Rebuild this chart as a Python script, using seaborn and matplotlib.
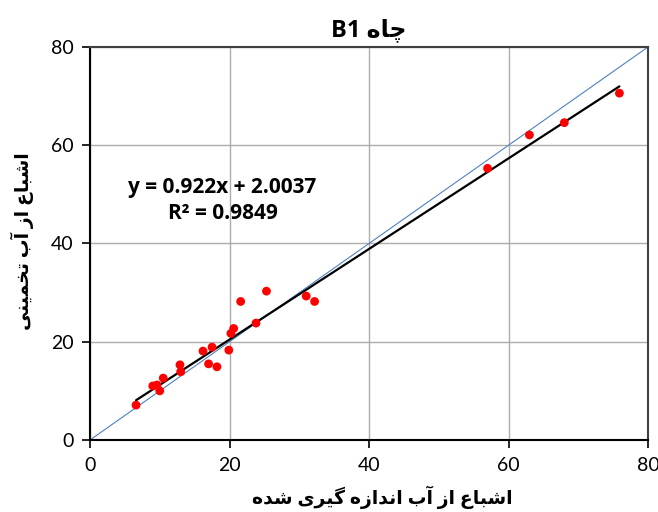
import matplotlib
matplotlib.use("Agg")
import matplotlib.pyplot as plt
import seaborn as sns
import numpy as np
import pandas as pd

# ---- data -------------------------------------------------------------
measured = [6.6, 9.0, 9.6, 10.0, 10.5, 12.9, 13.0, 16.2, 17.0, 17.5, 18.2,
            19.9, 20.2, 20.6, 21.6, 23.8, 25.3, 31.0, 32.2, 57.0, 63.0,
            68.0, 75.9]
estimated = [7.1, 11.0, 11.2, 10.0, 12.6, 15.3, 13.9, 18.1, 15.5, 18.9, 14.9,
             18.3, 21.7, 22.7, 28.2, 23.8, 30.3, 29.3, 28.2, 55.3, 62.1,
             64.6, 70.6]
slope = 0.922
intercept = 2.0037
r_squared = 0.9849
ticks = [0, 20, 40, 60, 80]

title_text = "چاه B1"
xlabel_text = "اشباع از آب اندازه گیری شده"
ylabel_text = "اشباع از آب تخمینی"

# ---- minimal Persian shaping (presentation forms + visual order) -----
FORMS = {  # isolated, final, initial, medial
    "ا": (0xFE8D, 0xFE8E, None, None),
    "آ": (0xFE81, 0xFE82, None, None),
    "ب": (0xFE8F, 0xFE90, 0xFE91, 0xFE92),
    "ت": (0xFE95, 0xFE96, 0xFE97, 0xFE98),
    "خ": (0xFEA5, 0xFEA6, 0xFEA7, 0xFEA8),
    "د": (0xFEA9, 0xFEAA, None, None),
    "ر": (0xFEAD, 0xFEAE, None, None),
    "ز": (0xFEAF, 0xFEB0, None, None),
    "ش": (0xFEB5, 0xFEB6, 0xFEB7, 0xFEB8),
    "ع": (0xFEC9, 0xFECA, 0xFECB, 0xFECC),
    "م": (0xFEE1, 0xFEE2, 0xFEE3, 0xFEE4),
    "ن": (0xFEE5, 0xFEE6, 0xFEE7, 0xFEE8),
    "ه": (0xFEE9, 0xFEEA, 0xFEEB, 0xFEEC),
    "ی": (0xFBFC, 0xFBFD, 0xFBFE, 0xFBFF),
    "گ": (0xFB92, 0xFB93, 0xFB94, 0xFB95),
    "چ": (0xFB7A, 0xFB7B, 0xFB7C, 0xFB7D),
}


def shape_word(word):
    out = []
    for i, ch in enumerate(word):
        if ch not in FORMS:
            out.append(ch)
            continue
        prev = word[i - 1] if i > 0 else None
        nxt = word[i + 1] if i + 1 < len(word) else None
        f = FORMS[ch]
        join_prev = prev in FORMS and FORMS[prev][2] is not None
        join_next = nxt in FORMS and f[2] is not None
        if join_prev and join_next:
            code = f[3]
        elif join_prev:
            code = f[1]
        elif join_next:
            code = f[2]
        else:
            code = f[0]
        out.append(chr(code))
    return "".join(out)


def rtl(text):
    words = []
    for w in text.split(" "):
        if any(c in FORMS for c in w):
            words.append(shape_word(w)[::-1])
        else:
            words.append(w)
    return " ".join(words[::-1])


# ---- figure -----------------------------------------------------------
sns.set_theme(style="white")
plt.rcParams["font.family"] = ["Lato", "DejaVu Sans"]
plt.rcParams["text.color"] = "black"
plt.rcParams["axes.labelcolor"] = "black"
bold_family = ["Open Sans", "DejaVu Sans"]

fig = plt.figure(figsize=(6.58, 5.12), dpi=100)
ax = fig.add_axes([90 / 658, 1 - 440 / 512, 558 / 658, 393 / 512])

df = pd.DataFrame({"measured": measured, "estimated": estimated})

# 1:1 reference line
ref = pd.DataFrame({"x": [ticks[0], ticks[-1]], "y": [ticks[0], ticks[-1]]})
sns.lineplot(data=ref, x="x", y="y", ax=ax, color="#4F81BD", linewidth=0.8,
             zorder=2)

# linear trend line over the data range
xs = np.array([min(measured), max(measured)])
trend = pd.DataFrame({"x": xs, "y": slope * xs + intercept})
sns.lineplot(data=trend, x="x", y="y", ax=ax, color="black", linewidth=1.6,
             zorder=3)

sns.scatterplot(data=df, x="measured", y="estimated", ax=ax, color="#FF0000",
                s=40, edgecolor="none", zorder=4)

ax.set_xlim(ticks[0], ticks[-1])
ax.set_ylim(ticks[0], ticks[-1])
ax.set_xticks(ticks)
ax.set_yticks(ticks)
ax.grid(True, color="#ADADAD", linewidth=1.0)
ax.set_axisbelow(True)

for side in ("left", "bottom"):
    ax.spines[side].set_color("black")
    ax.spines[side].set_linewidth(1.5)
for side in ("top", "right"):
    ax.spines[side].set_color("#404040")
    ax.spines[side].set_linewidth(1.5)

ax.tick_params(axis="both", direction="out", length=6, width=1.2,
               color="black", labelsize=14, labelcolor="black", pad=6,
               bottom=True, left=True)

ax.set_xlabel(rtl(xlabel_text), fontsize=13.5, fontweight="bold",
              family=bold_family, color="black")
ax.xaxis.set_label_coords(0.523, -0.115)
ax.set_ylabel(rtl(ylabel_text), fontsize=13.5, fontweight="bold",
              family=bold_family, color="black")
ax.yaxis.set_label_coords(-0.1, 0.505)
ax.set_title(rtl(title_text), fontsize=17, fontweight="bold",
             family=bold_family, color="black", pad=8)

ax.text(19.0, 51.5, f"y = {slope}x + {intercept}", fontsize=15,
        fontweight="bold", family=bold_family, color="black",
        ha="center", va="center")
ax.text(19.0, 46.2, f"R² = {r_squared}", fontsize=15,
        fontweight="bold", family=bold_family, color="black",
        ha="center", va="center")

fig.savefig("out.png", dpi=100)
